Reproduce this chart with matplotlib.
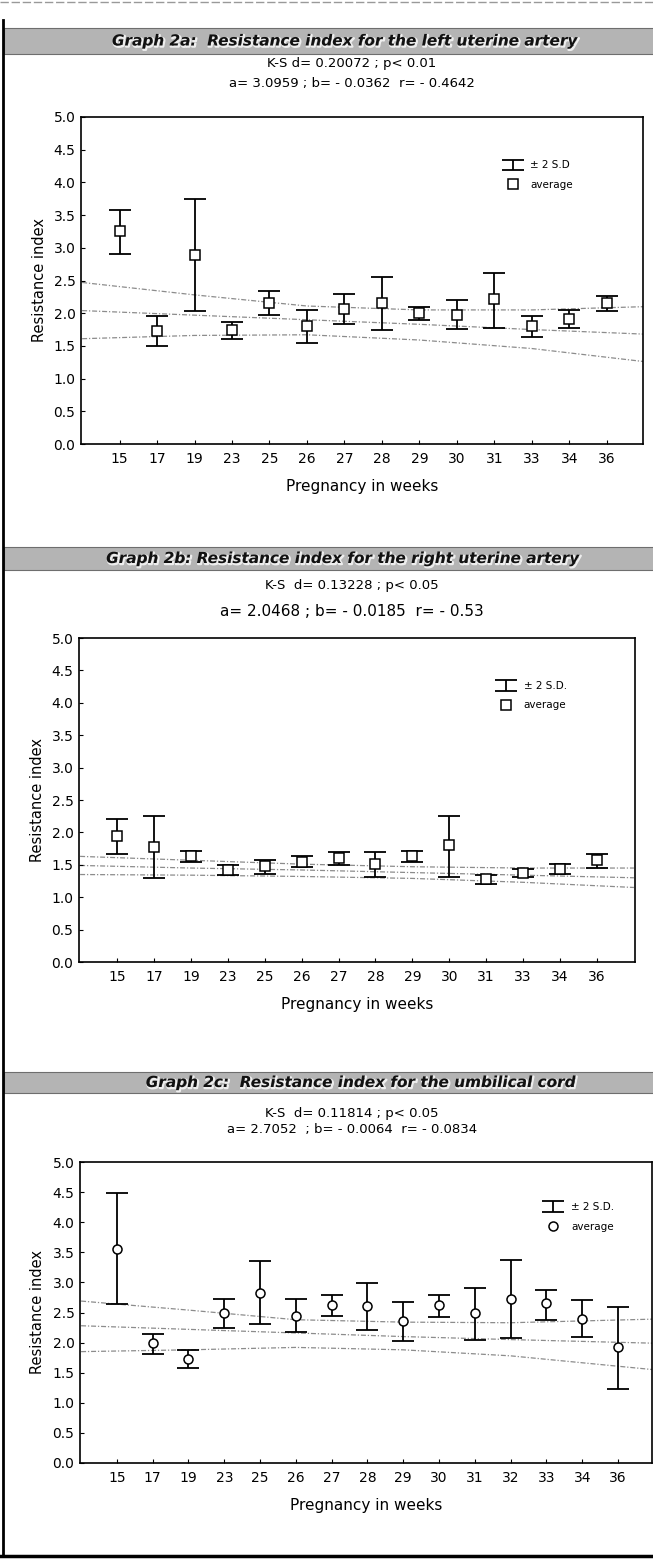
import numpy as np
import matplotlib.pyplot as plt
import matplotlib.patheffects as pe
from matplotlib.patches import Rectangle
from matplotlib.lines import Line2D

plt.rcParams['font.family'] = ['DejaVu Sans']

W, H = 653, 1559

# Graph 2a - left uterine artery
weeks_a = [15, 17, 19, 23, 25, 26, 27, 28, 29, 30, 31, 33, 34, 36]
mean_a = [3.25, 1.73, 2.89, 1.74, 2.15, 1.80, 2.07, 2.15, 2.00, 1.98, 2.21, 1.80, 1.91, 2.15]
upper_a = [3.58, 1.96, 3.74, 1.87, 2.34, 2.05, 2.30, 2.55, 2.09, 2.20, 2.61, 1.96, 2.05, 2.26]
lower_a = [2.90, 1.50, 2.04, 1.60, 1.97, 1.54, 1.83, 1.74, 1.89, 1.76, 1.78, 1.63, 1.77, 2.03]
band_pos_a = [-1, 2, 5, 8, 11, 14]
reg_hi_a = [2.47, 2.28, 2.11, 2.05, 2.05, 2.10]
reg_mid_a = [2.04, 1.97, 1.90, 1.83, 1.75, 1.68]
reg_lo_a = [1.61, 1.66, 1.67, 1.59, 1.46, 1.26]

# Graph 2b - right uterine artery
weeks_b = [15, 17, 19, 23, 25, 26, 27, 28, 29, 30, 31, 33, 34, 36]
mean_b = [1.94, 1.77, 1.63, 1.42, 1.48, 1.54, 1.60, 1.51, 1.63, 1.80, 1.28, 1.37, 1.44, 1.58]
upper_b = [2.21, 2.25, 1.71, 1.49, 1.58, 1.63, 1.69, 1.69, 1.72, 2.26, 1.35, 1.44, 1.51, 1.67]
lower_b = [1.67, 1.30, 1.54, 1.35, 1.36, 1.46, 1.50, 1.31, 1.54, 1.31, 1.20, 1.31, 1.36, 1.45]
band_pos_b = [-1, 2, 5, 8, 11, 14]
reg_hi_b = [1.63, 1.57, 1.51, 1.47, 1.45, 1.45]
reg_mid_b = [1.49, 1.45, 1.42, 1.38, 1.34, 1.30]
reg_lo_b = [1.35, 1.34, 1.32, 1.29, 1.23, 1.15]

# Graph 2c - umbilical cord
weeks_c = [15, 17, 19, 23, 25, 26, 27, 28, 29, 30, 31, 32, 33, 34, 36]
mean_c = [3.56, 1.99, 1.73, 2.49, 2.83, 2.44, 2.62, 2.61, 2.36, 2.62, 2.49, 2.72, 2.65, 2.40, 1.92]
upper_c = [4.49, 2.14, 1.88, 2.72, 3.35, 2.72, 2.79, 2.99, 2.67, 2.79, 2.90, 3.37, 2.88, 2.70, 2.59]
lower_c = [2.64, 1.81, 1.57, 2.25, 2.31, 2.17, 2.44, 2.21, 2.03, 2.43, 2.04, 2.07, 2.38, 2.09, 1.23]
band_pos_c = [-1, 2, 5, 8, 11, 15]
reg_hi_c = [2.69, 2.54, 2.38, 2.34, 2.33, 2.39]
reg_mid_c = [2.28, 2.22, 2.16, 2.10, 2.05, 1.99]
reg_lo_c = [1.85, 1.88, 1.92, 1.88, 1.78, 1.55]

titles = ["Graph 2a:  Resistance index for the left uterine artery",
          "Graph 2b: Resistance index for the right uterine artery",
          "Graph 2c:  Resistance index for the umbilical cord"]
ks_lines = ["K-S d= 0.20072 ; p< 0.01",
            "K-S  d= 0.13228 ; p< 0.05",
            "K-S  d= 0.11814 ; p< 0.05"]
reg_lines = ["a= 3.0959 ; b= - 0.0362  r= - 0.4642",
             "a= 2.0468 ; b= - 0.0185  r= - 0.53",
             "a= 2.7052  ; b= - 0.0064  r= - 0.0834"]
sd_labels = ["± 2 S.D", "± 2 S.D.", "± 2 S.D."]


def fig_rect(l, t, r, b):
    return [l / W, 1 - b / H, (r - l) / W, (b - t) / H]


def ftext(x, y, s, **kw):
    fig.text(x / W, 1 - y / H, s, ha='center', va='center', **kw)


def draw_panel(ax, weeks, mean, upper, lower, bpos, hi, mid, lo, marker, xmax, sd_label, leg_xy):
    x = np.arange(len(weeks))
    mean = np.array(mean)
    err = [mean - np.array(lower), np.array(upper) - mean]

    for band in (hi, mid, lo):
        ax.plot(bpos, band, color='#8c8c8c', lw=0.9, ls=(0, (4, 1.5, 1, 1.5)), zorder=1)

    eb = ax.errorbar(x, mean, yerr=err, fmt='none', ecolor='black', elinewidth=1.3,
                     capsize=8, capthick=1.3, zorder=2)
    pts, = ax.plot(x, mean, marker=marker, ls='none', mfc='white', mec='black',
                   ms=6.5, mew=1.1, zorder=3)

    ax.set_xlim(-1.03, xmax)
    ax.set_ylim(0, 5)
    ax.set_xticks(x)
    ax.set_xticklabels([str(w) for w in weeks], fontsize=10)
    ax.set_yticks(np.arange(0, 5.01, 0.5))
    ax.set_yticklabels(['%.1f' % v for v in np.arange(0, 5.01, 0.5)], fontsize=10)
    ax.tick_params(direction='in', length=3, width=0.8, pad=6)
    ax.tick_params(axis='y', pad=4)
    for sp in ax.spines.values():
        sp.set_linewidth(1.2)
    ax.set_ylabel('Resistance index', fontsize=10.5, labelpad=5)
    ax.set_xlabel('Pregnancy in weeks', fontsize=11, labelpad=9)

    ax.legend([eb, pts], [sd_label, 'average'], loc='upper left', bbox_to_anchor=leg_xy,
              frameon=False, fontsize=7.5, handlelength=2.2, handletextpad=0.6,
              labelspacing=0.9, borderaxespad=0)


fig = plt.figure(figsize=(W / 100, H / 100), dpi=100)

# page frame pieces
fig.add_artist(Line2D([3 / W, 3 / W], [1 - 20 / H, 1 - 1556 / H], color='black', lw=2))
fig.add_artist(Line2D([0, 1], [1 - 1556 / H, 1 - 1556 / H], color='black', lw=2.5))
fig.add_artist(Line2D([0, 1], [1 - 2 / H, 1 - 2 / H], color='#999999', lw=1, ls=(0, (6, 2))))

banners = [(28, 54), (547, 570), (1072, 1093)]
title_x = [344, 342, 360]
sub_y = [(64, 83), (586, 611), (1113, 1129)]
sub_size = [(9.5, 9.5), (9.5, 11), (9.5, 9.5)]
for i in range(3):
    t, b = banners[i]
    fig.add_artist(Rectangle((4 / W, 1 - b / H), 1, (b - t) / H, transform=fig.transFigure,
                             facecolor='#b4b4b4', edgecolor='#6e6e6e', lw=0.8))
    ftext(title_x[i], (t + b) / 2, titles[i], fontsize=11, fontweight='bold', fontstyle='italic',
          color='#111111',
          path_effects=[pe.Stroke(linewidth=1.6, foreground='#eeeeee', offset=(0.8, -0.8)), pe.Normal()])
    ftext(352, sub_y[i][0], ks_lines[i], fontsize=sub_size[i][0])
    ftext(352, sub_y[i][1], reg_lines[i], fontsize=sub_size[i][1])

ax_a = fig.add_axes(fig_rect(81, 117, 643, 444))
draw_panel(ax_a, weeks_a, mean_a, upper_a, lower_a, band_pos_a, reg_hi_a, reg_mid_a, reg_lo_a,
           's', 13.97, sd_labels[0], (0.74, 0.88))

ax_b = fig.add_axes(fig_rect(79, 638, 635, 962))
draw_panel(ax_b, weeks_b, mean_b, upper_b, lower_b, band_pos_b, reg_hi_b, reg_mid_b, reg_lo_b,
           's', 14.03, sd_labels[1], (0.74, 0.88))

ax_c = fig.add_axes(fig_rect(80, 1162, 652, 1463))
draw_panel(ax_c, weeks_c, mean_c, upper_c, lower_c, band_pos_c, reg_hi_c, reg_mid_c, reg_lo_c,
           'o', 14.95, sd_labels[2], (0.80, 0.88))

fig.savefig('out.png', dpi=100)
